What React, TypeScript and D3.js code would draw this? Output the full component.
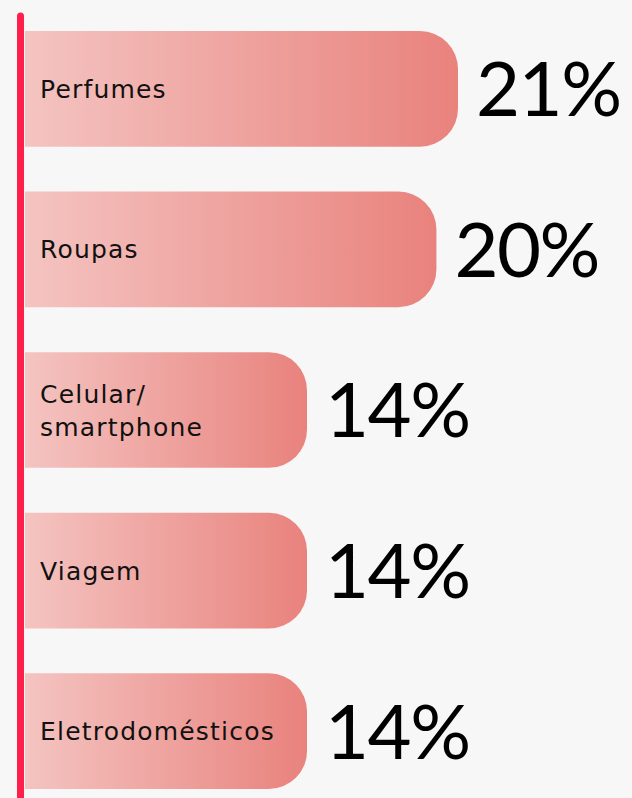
import React, { useEffect, useRef } from "react";
import * as d3 from "d3";

const categories = ["Perfumes", "Roupas", "Celular/\nsmartphone", "Viagem", "Eletrodomésticos"];
const values = [21, 20, 14, 14, 14];
const valueLabels = ["21%", "20%", "14%", "14%", "14%"];

const W = 632;
const H = 798;

const App = () => {
  const svgRef = useRef<SVGSVGElement>(null);

  useEffect(() => {
    const svg = d3.select(svgRef.current);
    svg.selectAll("*").remove();

    // bars start just right of the red axis
    const x0 = 25;
    const x = d3.scaleLinear().domain([0, 21]).range([5, 458]);
    const y = d3.scaleBand<string>().domain(categories).range([31, 789]).paddingInner(0.28).paddingOuter(0);

    // background
    svg.append("rect").attr("width", W).attr("height", H).attr("fill", "#f7f7f7");

    const defs = svg.append("defs");
    const grad = defs
      .append("linearGradient")
      .attr("id", "barGrad")
      .attr("x1", "0%")
      .attr("x2", "100%")
      .attr("y1", "0%")
      .attr("y2", "0%");
    grad.append("stop").attr("offset", "0%").attr("stop-color", "#f4c4c1");
    grad.append("stop").attr("offset", "100%").attr("stop-color", "#e9827d");

    const bh = y.bandwidth();
    const r = 38;

    const g = svg.selectAll(".bar").data(categories).enter().append("g").attr("class", "bar");

    // bars: square left edge, rounded right end
    g.append("path")
      .attr("d", (d, i) => {
        const top = y(d)!;
        const right = x(values[i]);
        const p = d3.path();
        p.moveTo(x0, top);
        p.lineTo(right - r, top);
        p.arcTo(right, top, right, top + r, r);
        p.lineTo(right, top + bh - r);
        p.arcTo(right, top + bh, right - r, top + bh, r);
        p.lineTo(x0, top + bh);
        p.closePath();
        return p.toString();
      })
      .attr("fill", "url(#barGrad)");

    // category labels
    g.each(function (d) {
      const lines = d.split("\n");
      const cy = y(d)! + bh / 2;
      const lh = 33;
      const t = d3
        .select(this)
        .append("text")
        .attr("font-family", "'DejaVu Sans', sans-serif")
        .attr("font-size", 25)
        .attr("letter-spacing", 1.2)
        .attr("fill", "#111");
      lines.forEach((ln, j) => {
        t.append("tspan")
          .attr("x", 40)
          .attr("y", cy + (j - (lines.length - 1) / 2) * lh)
          .attr("dy", "0.36em")
          .text(ln);
      });
    });

    // value labels
    g.append("text")
      .attr("x", (d, i) => x(values[i]) + 18)
      .attr("y", (d) => y(d)! + bh / 2)
      .attr("dy", "0.36em")
      .attr("font-family", "Lato, sans-serif")
      .attr("font-size", 76)
      .attr("letter-spacing", -1.5)
      .attr("fill", "#000")
      .text((d, i) => valueLabels[i]);

    // red axis line
    svg
      .append("line")
      .attr("x1", 20.5)
      .attr("x2", 20.5)
      .attr("y1", 16)
      .attr("y2", H + 10)
      .attr("stroke", "#ff1f4b")
      .attr("stroke-width", 7)
      .attr("stroke-linecap", "round");
  }, []);

  return (
    <svg
      ref={svgRef}
      width={W}
      height={H}
      style={{ position: "absolute", left: 0, top: 0, display: "block" }}
    ></svg>
  );
};

export default App;
